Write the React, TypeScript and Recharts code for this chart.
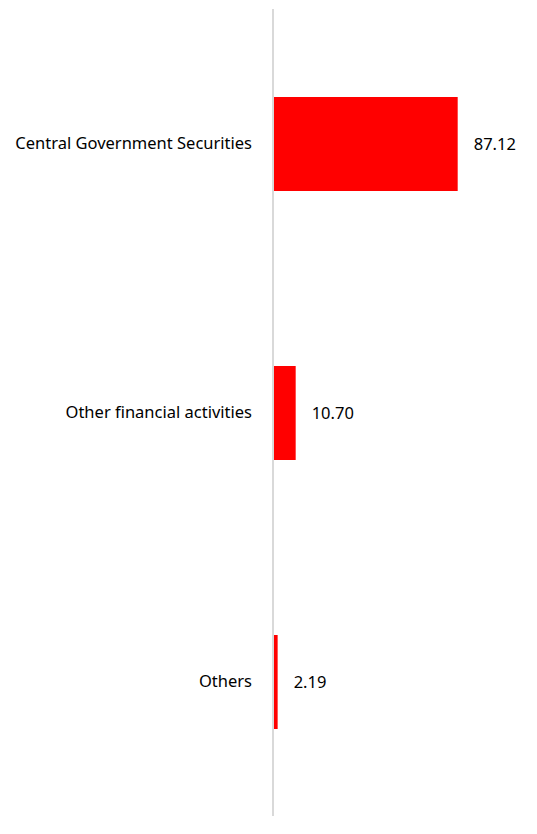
import React from 'react';
import { BarChart, Bar, XAxis, YAxis, LabelList } from 'recharts';

const categories = ['Central Government Securities', 'Other financial activities', 'Others'];
const shares = [87.12, 10.7, 2.19];

const data = categories.map((name, i) => ({ name, value: shares[i] }));

const font = '"Noto Sans", sans-serif';

export default function App() {
  return (
    <div style={{ position: 'absolute', left: 0, top: 0, width: 537, height: 834, background: '#fff', fontFamily: font }}>
      <BarChart
        width={537}
        height={834}
        data={data}
        layout="vertical"
        margin={{ top: 9, right: 52, left: 0, bottom: 18 }}
        barSize={94}
      >
        <XAxis type="number" domain={[0, 100]} hide />
        <YAxis
          type="category"
          dataKey="name"
          width={273}
          tickLine={false}
          axisLine={{ stroke: '#d9d9d9', strokeWidth: 2 }}
          tickSize={0}
          tickMargin={21}
          tick={{ fontSize: 16.5, fill: '#000', fontFamily: font }}
        />
        <Bar dataKey="value" fill="#ff0000" isAnimationActive={false}>
          <LabelList
            dataKey="value"
            position="right"
            offset={16}
            formatter={(v: number) => v.toFixed(2)}
            style={{ fontSize: 16.5, fill: '#000', fontFamily: font }}
          />
        </Bar>
      </BarChart>
    </div>
  );
}
